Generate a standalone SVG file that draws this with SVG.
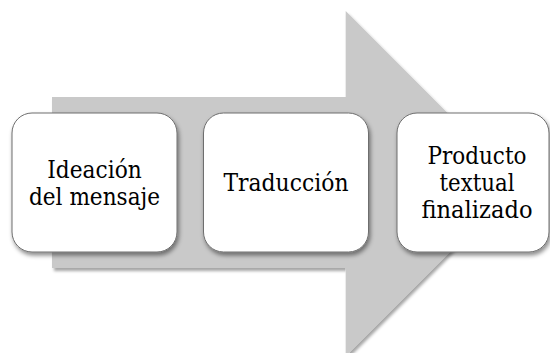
<svg xmlns="http://www.w3.org/2000/svg" width="550" height="353" viewBox="0 0 550 353">
  <defs>
    <filter id="shArrow" x="-10%" y="-10%" width="120%" height="120%">
      <feDropShadow dx="2" dy="3" stdDeviation="1.8" flood-color="#000" flood-opacity="0.35"/>
    </filter>
    <filter id="shBox" x="-10%" y="-10%" width="120%" height="125%">
      <feDropShadow dx="1.5" dy="3" stdDeviation="2" flood-color="#000" flood-opacity="0.45"/>
    </filter>
  </defs>
  <style>
    .arrow { fill: #c9c9c9; }
    .box { fill: #ffffff; stroke: #6e6e6e; stroke-width: 1; }
    .lbl { font-family: "DejaVu Serif", serif; font-size: 24.5px; fill: #000; text-anchor: middle; }
  </style>
  <rect width="550" height="353" fill="#ffffff"/>
  <g id="connectors">
    <path class="arrow" filter="url(#shArrow)" d="M52,97 L345.7,97 L345.7,11 L518,183.5 L345.7,356 L345.7,268 L52,268 Z"/>
  </g>
  <g id="node1">
    <rect class="box" filter="url(#shBox)" x="12" y="113" width="165" height="139" rx="20" ry="20"/>
    <text class="lbl" x="94.5" y="177.5" textLength="94.5" lengthAdjust="spacingAndGlyphs">Ideación</text>
    <text class="lbl" x="94.5" y="204.5" textLength="131" lengthAdjust="spacingAndGlyphs">del mensaje</text>
  </g>
  <g id="node2">
    <rect class="box" filter="url(#shBox)" x="203.5" y="113" width="165" height="139" rx="20" ry="20"/>
    <text class="lbl" x="286" y="191" textLength="125" lengthAdjust="spacingAndGlyphs">Traducción</text>
  </g>
  <g id="node3">
    <rect class="box" filter="url(#shBox)" x="397" y="113" width="152" height="139" rx="20" ry="20"/>
    <text class="lbl" x="477" y="163.5" textLength="99" lengthAdjust="spacingAndGlyphs">Producto</text>
    <text class="lbl" x="477" y="190.8" textLength="75" lengthAdjust="spacingAndGlyphs">textual</text>
    <text class="lbl" x="477" y="218" textLength="111" lengthAdjust="spacingAndGlyphs">finalizado</text>
  </g>
</svg>
